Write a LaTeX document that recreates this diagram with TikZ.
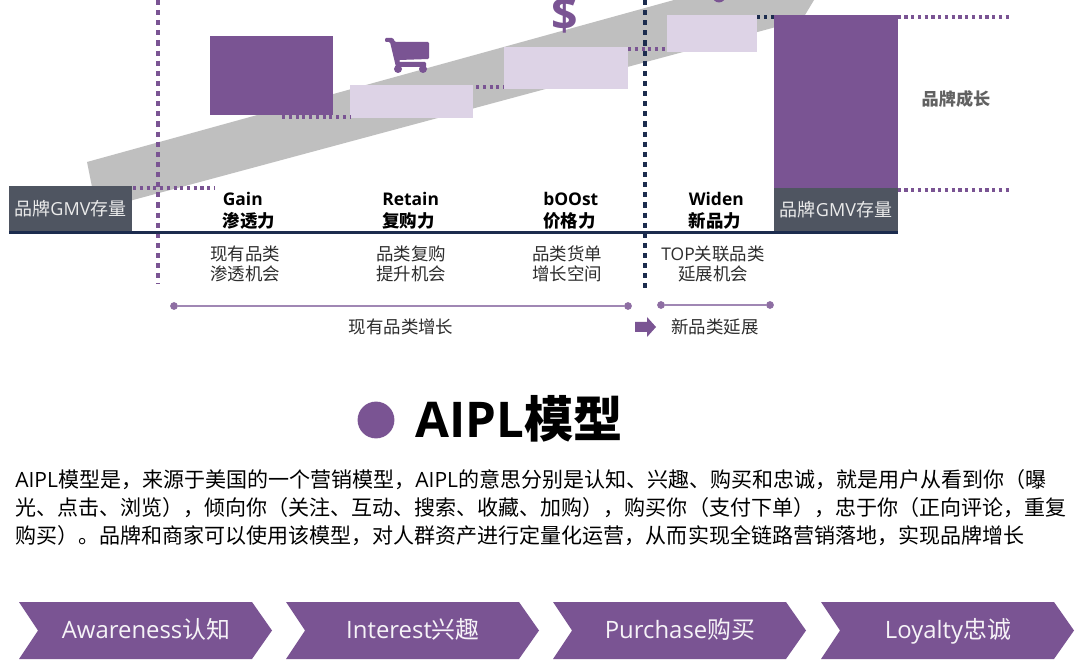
\documentclass[tikz,border=0pt]{standalone}
\usepackage{xcolor}
\usepackage{fontspec}
\setmainfont{Open Sans}
\newfontfamily\cjk{Noto Sans CJK SC}
\definecolor{mainpurple}{RGB}{122, 84, 147}
\definecolor{lightpurple}{RGB}{221, 211, 230}
\definecolor{spanpurple}{RGB}{160, 135, 180}
\definecolor{bandgray}{RGB}{191, 191, 191}
\definecolor{stockgray}{RGB}{79, 85, 97}
\definecolor{basenavy}{RGB}{28, 44, 78}
\definecolor{textdark}{RGB}{45, 45, 45}
\newcommand{\lat}[1]{{\rmfamily #1}}
\tikzset{
  barbox/.style={fill=mainpurple, inner sep=0pt, outer sep=0pt},
  lightbox/.style={fill=lightpurple, inner sep=0pt, outer sep=0pt},
  stockbox/.style={fill=stockgray, text=white!92!black, inner sep=0pt, outer sep=0pt, font=\cjk\fontsize{12.8}{15}\selectfont},
  dotline/.style={mainpurple, line width=2.4pt, dash pattern=on 2.3pt off 2.5pt},
  vline/.style={line width=2.2pt, dash pattern=on 3.6pt off 3.6pt},
  headtext/.style={anchor=west, inner sep=0pt, align=left, text=black, font=\cjk\bfseries\fontsize{12.4}{15.6}\selectfont},
  chancetext/.style={inner sep=0pt, align=center, text=textdark, font=\cjk\fontsize{12.4}{14.4}\selectfont},
  spandot/.style={circle, fill=mainpurple!85, inner sep=0pt, minimum size=5.5pt},
  spanline/.style={spanpurple, line width=1pt},
  bodytext/.style={anchor=north west, inner sep=0pt, align=left, text=black, font=\cjk\fontsize{14.95}{19.9}\selectfont},
  chevtext/.style={anchor=base, inner sep=0pt, text=white!93!mainpurple, font=\cjk\fontsize{17}{20}\selectfont}
}
\begin{document}
\begin{tikzpicture}[x=0.025cm,y=-0.025cm]
  \clip (0,0) rectangle (1080,669);
  \fill[white] (0,0) rectangle (1080,669);

  \fill[bandgray] (87,162) -- (674,0) -- (814,0) -- (802,20) -- (133,200) -- (97,212) -- cycle;

  \node[barbox, minimum width=3.075cm, minimum height=1.975cm] (gainbar) at (271.5,75.5) {};
  \node[lightbox, minimum width=3.075cm, minimum height=0.825cm] (retainbar) at (411.5,101.5) {};
  \node[lightbox, minimum width=3.1cm, minimum height=1.05cm] (boostbar) at (566,68) {};
  \node[lightbox, minimum width=2.25cm, minimum height=0.925cm] (widenbar) at (712,33.5) {};
  \node[barbox, minimum width=3.075cm, minimum height=4.325cm] (growbar) at (836,101.5) {};
  \node[stockbox, minimum width=3.075cm, minimum height=1.15cm] (stockleft) at (70.5,209) {品牌\lat{GMV}存量};
  \node[stockbox, minimum width=3.075cm, minimum height=1.1cm] (stockright) at (836,210) {品牌\lat{GMV}存量};

  \coordinate (gainfrom) at (133,188);
  \coordinate (gainto) at (215,188);
  \coordinate (retainfrom) at (282,117);
  \coordinate (boostfrom) at (476,87);
  \coordinate (widenfrom) at (628,49);
  \coordinate (growfrom) at (757,17);
  \coordinate (growtop) at (1010,17);
  \coordinate (growbase) at (1010,190);
  \draw[dotline] (gainfrom) -- (gainto);
  \draw[dotline] (retainfrom) -- (retainbar.west |- retainfrom);
  \draw[dotline] (boostfrom) -- (boostbar.west |- boostfrom);
  \draw[dotline] (widenfrom) -- (widenbar.west |- widenfrom);
  \draw[dotline, basenavy] (growfrom) -- (growbar.west |- growfrom);
  \draw[dotline] (growbar.east |- growtop) -- (growtop);
  \draw[dotline] (growbar.east |- growbase) -- (growbase);

  \coordinate (purpletop) at (158,0);
  \coordinate (purpleend) at (158,284);
  \coordinate (navytop) at (645,0);
  \coordinate (navyend) at (645,288);
  \draw[vline, mainpurple] (purpletop) -- (purpleend);
  \draw[vline, basenavy] (navytop) -- (navyend);

  \coordinate (basefrom) at (9,232.5);
  \coordinate (baseto) at (898,232.5);
  \draw[basenavy, line width=1.9pt] (basefrom) -- (baseto);

  % cart
  \fill[mainpurple, rounded corners=0.8pt] (385,38) -- (393,38) -- (395,42) -- (429,42) -- (429,59) -- (399,60) -- (399,62) -- (426,62) -- (426,67) -- (396,67) -- (390,42) -- (385,42) -- cycle;
  \fill[mainpurple] (398,69) circle (4) (423,69) circle (4);
  \node[inner sep=0pt, text=mainpurple, font=\bfseries\fontsize{33}{34}\selectfont] (dollar) at (565,14) {\$};
  \fill[mainpurple] (719,-4) circle (6.5);

  \node[headtext] (gain) at (222.5,211) {\lat{Gain}\\渗透力};
  \node[headtext] (retain) at (382,211) {\lat{Retain}\\复购力};
  \node[headtext] (boost) at (543,211) {\lat{bOOst}\\价格力};
  \node[headtext] (widen) at (688.5,211) {\lat{Widen}\\新品力};

  \node[chancetext] (gainchance) at (245,264) {现有品类\\渗透机会};
  \node[chancetext] (retainchance) at (411,264) {品类复购\\提升机会};
  \node[chancetext] (boostchance) at (567,264) {品类货单\\增长空间};
  \node[chancetext] (widenchance) at (713,264) {\lat{TOP}关联品类\\延展机会};

  \node[inner sep=0pt, text=black!62, font=\cjk\bfseries\fontsize{12.2}{15}\selectfont] (growlabel) at (956,99) {品牌成长};

  \node[spandot] (spanaleft) at (174,306) {};
  \node[spandot] (spanaright) at (628,306) {};
  \node[spandot] (spanbleft) at (661,305) {};
  \node[spandot] (spanbright) at (770,305) {};
  \draw[spanline] (spanaleft) -- (spanaright);
  \draw[spanline] (spanbleft) -- (spanbright);
  \node[chancetext] (spanatext) at (401,327) {现有品类增长};
  \node[chancetext] (spanbtext) at (715,327) {新品类延展};
  \fill[mainpurple] (635,322) -- (647,322) -- (647,317) -- (656,327) -- (647,337) -- (647,332) -- (635,332) -- cycle;

  \node[circle, fill=mainpurple, inner sep=0pt, minimum size=0.92cm] (titledot) at (376,420) {};
  \node[inner sep=0pt, anchor=west, text=black, font=\cjk\bfseries\fontsize{35}{36}\selectfont] (title) at (415,419) {\lat{AIPL}模型};

  \node[bodytext] (body) at (15,469.5) {\lat{AIPL}模型是，来源于美国的一个营销模型，\lat{AIPL}的意思分别是认知、兴趣、购买和忠诚，就是用户从看到你（曝\\光、点击、浏览），倾向你（关注、互动、搜索、收藏、加购），购买你（支付下单），忠于你（正向评论，重复\\购买）。品牌和商家可以使用该模型，对人群资产进行定量化运营，从而实现全链路营销落地，实现品牌增长};

  \foreach \xs in {19,286,553,821} {
    \fill[mainpurple] (\xs,602) -- ++(233,0) -- ++(20,28.5) -- ++(-20,28.5) -- ++(-233,0) -- ++(19,-28.5) -- cycle;
  }
  \node[chevtext] (aware) at (146,638.5) {\lat{Awareness}认知};
  \node[chevtext] (interest) at (413,638.5) {\lat{Interest}兴趣};
  \node[chevtext] (purchase) at (680,638.5) {\lat{Purchase}购买};
  \node[chevtext] (loyalty) at (948,638.5) {\lat{Loyalty}忠诚};
\end{tikzpicture}
\end{document}
